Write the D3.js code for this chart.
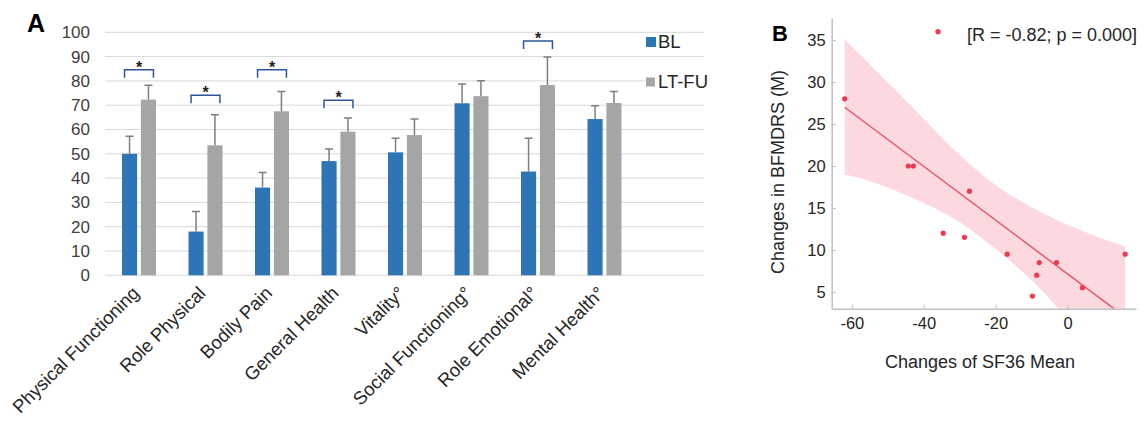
<!DOCTYPE html>
<html><head><meta charset="utf-8">
<script src="https://cdn.jsdelivr.net/npm/d3@7"></script>
<style>
body{margin:0;background:#fff;}
svg{display:block;font-family:"Liberation Sans",Arial,sans-serif;}
</style>
</head><body>
<svg id="c" width="1143" height="421"></svg>
<script>
// ---------- Panel A data ----------
const categories = ["Physical Functioning","Role Physical","Bodily Pain","General Health","Vitality°","Social Functioning°","Role Emotional°","Mental Health°"];
const seriesNames = ["BL","LT-FU"];
const blMean  = [50.0, 18.0, 36.1, 47.0, 50.6, 70.8, 42.7, 64.3];
const blUpper = [57.2, 26.3, 42.3, 52.0, 56.4, 78.7, 56.4, 69.8];
const ltMean  = [72.3, 53.5, 67.5, 59.1, 57.7, 73.7, 78.3, 70.9];
const ltUpper = [78.2, 66.1, 75.6, 64.7, 64.3, 80.1, 89.8, 75.6];
const yTicksA = [0,10,20,30,40,50,60,70,80,90,100];
const sigCategories = ["Physical Functioning","Role Physical","Bodily Pain","General Health","Role Emotional°"];
const sigLevels = [84.6, 74.1, 84.6, 72.0, 96.4];

// ---------- Panel B data ----------
const sf36Change   = [-62.0, -44.3, -42.9, -27.3, -34.6, -28.7, -16.8, -7.9, -3.1, -8.6, -9.8, 4.1, 16.0];
const bfmdrsChange = [28.0, 20.0, 20.0, 17.0, 12.0, 11.5, 9.5, 8.5, 8.5, 7.0, 4.5, 5.5, 9.5];
const fitX = [-62, 16];
const fitY = [27.0, 2.0];
const bandX     = [-62, -55, -47.5, -40, -30, -20, -10, 0, 8, 16];
const bandUpper = [35.1, 32.1, 28.9, 25.6, 21.3, 17.7, 15.1, 13.0, 11.6, 10.4];
const bandLower = [19.0, 18.2, 17.0, 15.6, 13.3, 10.1, 6.4, 1.9, -1.5, -4.5];
const xTicksB = [-60, -40, -20, 0];
const yTicksB = [5, 10, 15, 20, 25, 30, 35];
const legendTextB = "[R = -0.82; p = 0.000]";

const svg = d3.select("#c");
const colBL = "#2e75b6", colLT = "#a5a5a5";

// ================= Panel A =================
const yA = d3.scaleLinear().domain([0,100]).range([275.3, 32.3]);
const xA = d3.scaleBand().domain(categories).range([105, 637]);
const xIn = d3.scaleBand().domain(seriesNames).range([17, 51]).paddingInner(0.2);
const gridRight = 704;

const gA = svg.append("g");
gA.append("g").selectAll("line").data(yTicksA).join("line")
  .attr("x1", 105).attr("x2", gridRight)
  .attr("y1", d => yA(d)).attr("y2", d => yA(d))
  .attr("stroke", "#d9d9d9").attr("stroke-width", 1);

const yAxA = gA.append("g").attr("transform", "translate(105,0)")
  .call(d3.axisLeft(yA).tickValues(yTicksA).tickSize(0).tickPadding(15));
yAxA.select(".domain").remove();
yAxA.selectAll("text").attr("font-size", 17).attr("fill", "#404040")
  .attr("font-family", "Liberation Sans, Arial, sans-serif");

const xAxA = gA.append("g").attr("transform", `translate(0,${yA(0)})`)
  .call(d3.axisBottom(xA).tickSize(0));
xAxA.select(".domain").remove();
xAxA.selectAll("text")
  .attr("font-size", 18.5).attr("fill", "#262626")
  .attr("font-family", "Liberation Sans, Arial, sans-serif")
  .attr("text-anchor", "end").attr("x", 0).attr("y", 0).attr("dy", 0)
  .attr("transform", "translate(2,19) rotate(-45)");

const rows = categories.map((c, i) => ({c, vals: [
  {s: "BL", v: blMean[i], e: blUpper[i]},
  {s: "LT-FU", v: ltMean[i], e: ltUpper[i]}]}));
const groups = gA.append("g").selectAll("g").data(rows).join("g")
  .attr("transform", d => `translate(${xA(d.c)},0)`);
groups.selectAll("rect").data(d => d.vals).join("rect")
  .attr("x", d => xIn(d.s)).attr("width", xIn.bandwidth())
  .attr("y", d => yA(d.v)).attr("height", d => yA(0) - yA(d.v))
  .attr("fill", d => d.s === "BL" ? colBL : colLT);
groups.selectAll("path.err").data(d => d.vals).join("path").attr("class", "err")
  .attr("d", d => {
    const cx = xIn(d.s) + xIn.bandwidth() / 2;
    return `M${cx},${yA(d.v)}V${yA(d.e)}M${cx-4},${yA(d.e)}H${cx+4}`;
  })
  .attr("fill", "none").attr("stroke", "#7f7f7f").attr("stroke-width", 1.5);

const sig = sigCategories.map((c, i) => ({c, lv: sigLevels[i]}));
const sg = gA.append("g").selectAll("g").data(sig).join("g")
  .attr("transform", d => `translate(${xA(d.c)},0)`);
sg.append("path")
  .attr("d", d => {
    const x1 = xIn("BL") + xIn.bandwidth() / 2 - 5;
    const x2 = xIn("LT-FU") + xIn.bandwidth() / 2 + 5;
    const y = yA(d.lv);
    return `M${x1},${y+8}V${y}H${x2}V${y+8}`;
  })
  .attr("fill", "none").attr("stroke", "#2f5597").attr("stroke-width", 1.5);
sg.append("text")
  .attr("x", d => (xIn("BL") + xIn("LT-FU") + xIn.bandwidth()) / 2)
  .attr("y", d => yA(d.lv) + 3)
  .attr("text-anchor", "middle").attr("font-size", 16).attr("font-weight", "bold")
  .attr("fill", "#222").text("*");

const legA = gA.append("g");
seriesNames.forEach((s, i) => {
  const y0 = 42 + i * 40;
  legA.append("rect").attr("x", 645).attr("y", y0 - 8).attr("width", 62).attr("height", 17).attr("fill", "#fff");
  const sz = i === 0 ? 10 : 9;
  legA.append("rect").attr("x", 646).attr("y", y0 - sz / 2).attr("width", sz).attr("height", sz)
    .attr("fill", i === 0 ? colBL : colLT);
  legA.append("text").attr("x", 658).attr("y", y0 + 6).attr("font-size", 18.5)
    .attr("fill", "#262626").text(s);
});

svg.append("text").attr("x", 27).attr("y", 32).attr("font-size", 25)
  .attr("font-weight", "bold").attr("fill", "#000").text("A");

// ================= Panel B =================
const xB = d3.scaleLinear().domain([-65.6, 19]).range([831.7, 1136]);
const yB = d3.scaleLinear().domain([3, 37.6]).range([308.7, 18.3]);
const gB = svg.append("g");

svg.append("defs").append("clipPath").attr("id", "clipB")
  .append("rect").attr("x", xB(-65.6)).attr("y", yB(37.6))
  .attr("width", xB(19) - xB(-65.6)).attr("height", yB(3) - yB(37.6));

const plotB = gB.append("g").attr("clip-path", "url(#clipB)");
const bandData = bandX.map((x, i) => ({x, lo: bandLower[i], hi: bandUpper[i]}));
plotB.append("path").datum(bandData)
  .attr("d", d3.area().x(d => xB(d.x)).y0(d => yB(d.lo)).y1(d => yB(d.hi)).curve(d3.curveMonotoneX))
  .attr("fill", "#fcd9de");
plotB.append("path").datum(fitX.map((x, i) => ({x, y: fitY[i]})))
  .attr("d", d3.line().x(d => xB(d.x)).y(d => yB(d.y)))
  .attr("fill", "none").attr("stroke", "#e8566a").attr("stroke-width", 1.5);
plotB.append("g").selectAll("circle").data(sf36Change.map((x, i) => ({x, y: bfmdrsChange[i]})))
  .join("circle").attr("cx", d => xB(d.x)).attr("cy", d => yB(d.y)).attr("r", 2.6)
  .attr("fill", "#ec3b50");

const axCol = "#bfbfbf";
const xAxB = gB.append("g").attr("transform", `translate(0,${yB(3)})`)
  .call(d3.axisBottom(xB).tickValues(xTicksB).tickFormat(d => String(d))
    .tickSizeInner(-4).tickSizeOuter(0).tickPadding(9));
const yAxB = gB.append("g").attr("transform", `translate(${xB(-65.6)},0)`)
  .call(d3.axisLeft(yB).tickValues(yTicksB).tickFormat(d => String(d))
    .tickSizeInner(-4).tickSizeOuter(0).tickPadding(6));
[xAxB, yAxB].forEach(a => {
  a.select(".domain").attr("stroke", axCol).attr("stroke-width", 1.5);
  a.selectAll(".tick line").attr("stroke", axCol).attr("stroke-width", 1);
  a.selectAll("text").attr("font-size", 16.5).attr("fill", "#262626")
    .attr("font-family", "Liberation Sans, Arial, sans-serif");
});

gB.append("text").attr("text-anchor", "middle")
  .attr("transform", "translate(784,172) rotate(-90)")
  .attr("font-size", 18).attr("fill", "#262626").text("Changes in BFMDRS (M)");
gB.append("text").attr("text-anchor", "middle").attr("x", 980).attr("y", 368)
  .attr("font-size", 18).attr("fill", "#262626").text("Changes of SF36 Mean");

gB.append("circle").attr("cx", 938).attr("cy", 31.7).attr("r", 2.6).attr("fill", "#ec3b50");
gB.append("text").attr("x", 967).attr("y", 41).attr("font-size", 18)
  .attr("fill", "#262626").text(legendTextB);

svg.append("text").attr("x", 772).attr("y", 41).attr("font-size", 22)
  .attr("font-weight", "bold").attr("fill", "#000").text("B");
</script>
</body></html>
